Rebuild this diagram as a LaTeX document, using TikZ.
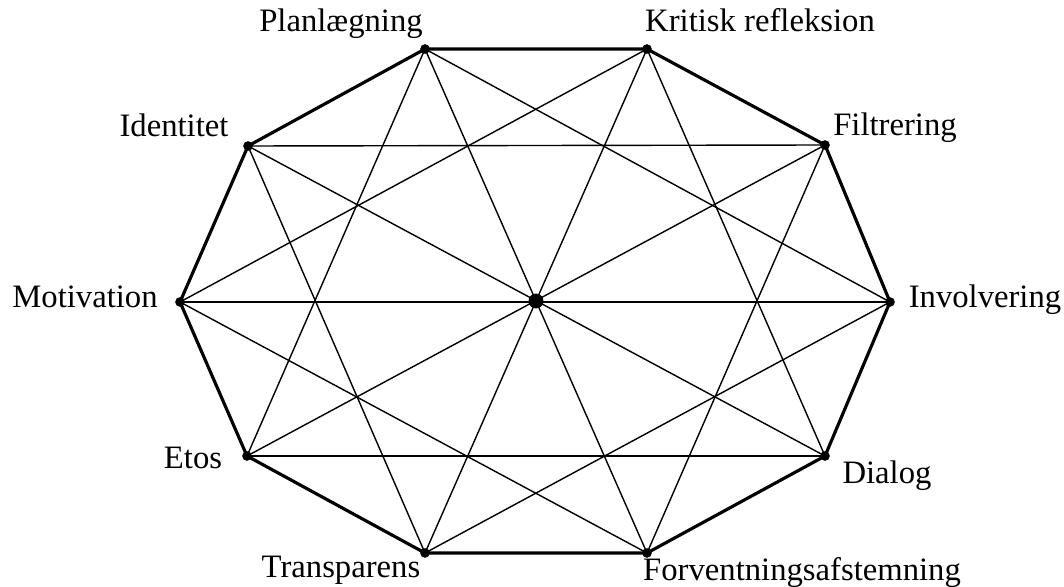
\documentclass[tikz,border=0pt]{standalone}
\usepackage{fontspec}
\setmainfont{Liberation Serif}
\begin{document}
\begin{tikzpicture}[x=0.02cm,y=-0.02cm,
    kant/.style={line width=1.8pt, line join=round},
    streg/.style={line width=0.8pt},
    punkt/.style={circle, fill, inner sep=0pt, minimum size=5.5pt},
    etiket/.style={font=\fontsize{18.6}{22}\selectfont, anchor=base, inner sep=0pt}]
        \useasboundingbox (0,0) rectangle (1064,587);
        % Hjoerner
        \coordinate (c) at (536,301);
        \coordinate (p0) at (425,49);
        \coordinate (p1) at (647,49);
        \coordinate (p2) at (825,145);
        \coordinate (p3) at (890,302);
        \coordinate (p4) at (825,456);
        \coordinate (p5) at (647,553);
        \coordinate (p6) at (425,553);
        \coordinate (p7) at (247,456);
        \coordinate (p8) at (180,302);
        \coordinate (p9) at (248,146);
        
        % Tynde linjer
        \foreach \a/\b in {0/3,1/4,2/5,3/6,4/7,5/8,6/9,7/0,8/1,9/2,0/5,1/6,2/7,3/8,4/9}
            \draw[streg] (p\a) -- (p\b);
        
        % Omkreds
        \draw[kant] (p0) -- (p1) -- (p2) -- (p3) -- (p4) -- (p5) -- (p6) -- (p7) -- (p8) -- (p9) -- cycle;
        
        % Punkter
        \foreach \i in {0,...,9}
            \node[punkt] at (p\i) {};
        \node[punkt, minimum size=8.5pt] (midte) at (c) {};
        
        % Etiketter
        \node[etiket] (planl) at (341,32) {Planlægning};
        \node[etiket] (kritisk) at (760,32) {Kritisk refleksion};
        \node[etiket] (filtr) at (895,136) {Filtrering};
        \node[etiket] (invol) at (985,308) {Involvering};
        \node[etiket] (dialog) at (887,483) {Dialog};
        \node[etiket] (forv) at (802,580) {Forventningsafstemning};
        \node[etiket] (transp) at (341,577) {Transparens};
        \node[etiket] (etos) at (193,468) {Etos};
        \node[etiket] (motiv) at (85,308) {Motivation};
        \node[etiket] (ident) at (174,137) {Identitet};
\end{tikzpicture}
\end{document}
